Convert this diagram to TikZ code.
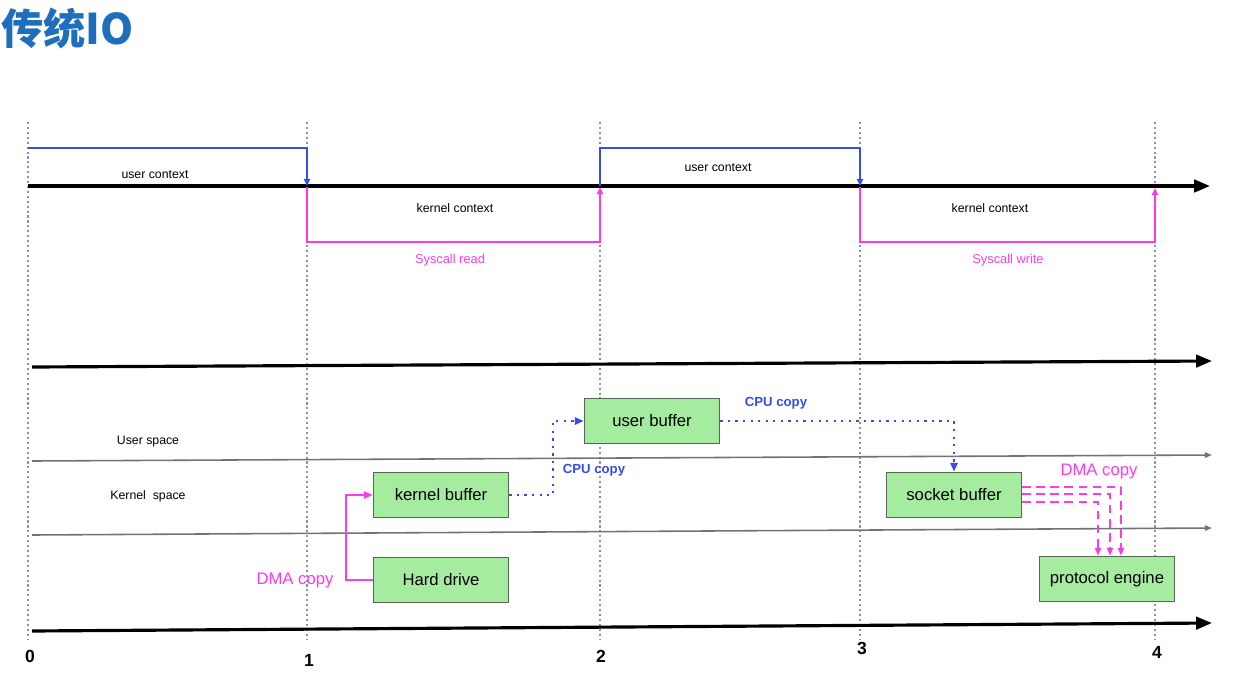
\documentclass[tikz,border=0pt]{standalone}
\usepackage{fontspec}
\setmainfont{Liberation Sans}
\newfontfamily\cjk{Noto Sans CJK SC}
\usetikzlibrary{arrows.meta,calc}
\definecolor{ctxblue}{RGB}{50,80,225}
\definecolor{dmamag}{RGB}{250,60,230}
\definecolor{boxgreen}{RGB}{165,236,160}
\definecolor{boxedge}{RGB}{85,105,85}
\definecolor{titleblue}{RGB}{30,110,190}
\definecolor{cpublue}{RGB}{55,75,230}
\begin{document}
\begin{tikzpicture}[x=0.02cm,y=-0.02cm,
  vguide/.style={gray!85, line width=0.8pt, dash pattern=on 1.2pt off 1.6pt},
  mainaxis/.style={line width=1.8pt, -{Triangle[length=9pt,width=7pt]}},
  sepline/.style={gray!90!black, line width=0.9pt, -{Triangle[length=4pt,width=3pt]}},
  bluectx/.style={ctxblue, line width=1.1pt, -{Triangle[length=4pt,width=3.5pt]}},
  magctx/.style={dmamag, line width=1.1pt, -{Triangle[length=4pt,width=3.5pt]}},
  buf/.style={draw=boxedge, fill=boxgreen, line width=0.9pt, minimum width=2.7cm, minimum height=0.9cm, inner sep=0pt, font=\fontsize{9.5}{11}\selectfont},
  small/.style={font=\fontsize{7}{8}\selectfont},
  mlabel/.style={font=\fontsize{7.3}{8}\selectfont, text=dmamag},
  cpulabel/.style={font=\bfseries\fontsize{7.5}{9}\selectfont, text=cpublue},
  dmalabel/.style={font=\fontsize{9.5}{11}\selectfont, text=dmamag},
  num/.style={font=\bfseries\fontsize{10}{12}\selectfont},
  cpucopy/.style={cpublue, line width=1.3pt, dash pattern=on 1.3pt off 3pt, -{Triangle[length=5pt,width=4pt]}},
  dmacopy/.style={dmamag, line width=1.1pt, -{Triangle[length=5pt,width=4pt]}},
  dmadash/.style={dmamag, line width=1pt, dash pattern=on 5pt off 3pt, -{Triangle[length=4.5pt,width=3.5pt]}}
]
\useasboundingbox (0,0) rectangle (1254,683);

% title
\node[anchor=west, inner sep=0pt, text=titleblue, font=\cjk\bfseries\fontsize{24}{28}\selectfont] (title) at (1,28) {传统IO};

% vertical guides
\foreach \x/\n in {28/g0,307/g1,600/g2,860/g3,1155/g4}{
  \coordinate (\n t) at (\x,122);
  \coordinate (\n b) at (\x,640);
  \draw[vguide] (\n t) -- (\n b);
}

% top timeline
\coordinate (ta0) at (28,186);
\coordinate (ta1) at (1210,186);
\draw[mainaxis] (ta0) -- (ta1);

\coordinate (u0) at (28,148);
\coordinate (u1) at (307,148);
\coordinate (u1b) at (307,186);
\draw[bluectx] (u0) -- (u1) -- (u1b);
\coordinate (k1a) at (307,187);
\coordinate (k1b) at (307,242);
\coordinate (k2b) at (600,242);
\coordinate (k2a) at (600,187);
\draw[magctx] (k1a) -- (k1b) -- (k2b) -- (k2a);
\coordinate (u2a) at (600,186);
\coordinate (u2b) at (600,148);
\coordinate (u3b) at (860,148);
\coordinate (u3a) at (860,186);
\draw[bluectx] (u2a) -- (u2b) -- (u3b) -- (u3a);
\coordinate (k3a) at (860,187);
\coordinate (k3b) at (860,242);
\coordinate (k4b) at (1155,242);
\coordinate (k4a) at (1155,188);
\draw[magctx] (k3a) -- (k3b) -- (k4b) -- (k4a);

\node[small] (uc1) at (155,175) {user context};
\node[small] (uc2) at (718,168) {user context};
\node[small] (kc1) at (455,208) {kernel context};
\node[small] (kc2) at (990,208) {kernel context};
\node[mlabel] (sr) at (450,260) {Syscall read};
\node[mlabel] (sw) at (1008,260) {Syscall write};

% lower axes
\coordinate (ma0) at (32,367);
\coordinate (ma1) at (1212,361);
\draw[mainaxis] (ma0) -- (ma1);
\coordinate (s1a) at (32,461);
\coordinate (s1b) at (1212,455);
\draw[sepline] (s1a) -- (s1b);
\coordinate (s2a) at (32,535);
\coordinate (s2b) at (1212,528);
\draw[sepline] (s2a) -- (s2b);
\coordinate (ba0) at (32,631);
\coordinate (ba1) at (1212,623);
\draw[mainaxis] (ba0) -- (ba1);

\node[small] (us) at (148,442) {User space};
\node[small] (ks) at (148,496) {Kernel\ \ space};

% buffers
\node[buf] (kb) at (441,495) {kernel buffer};
\node[buf] (hd) at (441,580) {Hard drive};
\node[buf] (ub) at (652,421) {user buffer};
\node[buf] (sb) at (954,495) {socket buffer};
\node[buf] (pe) at (1107,579) {protocol engine};

% DMA copy 1
\coordinate (d1) at (346,580);
\draw[dmacopy] (hd.west) -- (d1) |- (kb.west);
\node[dmalabel] (dl1) at (295,580) {DMA copy};

% CPU copy 1
\coordinate (c1) at (553,421);
\draw[cpucopy] (kb.east) -| (c1) -- (ub.west);
\node[cpulabel] (cl1) at (594,470) {CPU copy};

% CPU copy 2
\draw[cpucopy] (ub.east) -| (sb.north);
\node[cpulabel] (cl2) at (776,403) {CPU copy};

% DMA copy 2
\draw[dmadash] ($(sb.east)+(0,-8)$) -| ($(pe.north)+(14,0)$);
\draw[dmadash] ($(sb.east)+(0,-1)$) -| ($(pe.north)+(3,0)$);
\draw[dmadash] ($(sb.east)+(0,7)$) -| ($(pe.north)+(-9,0)$);
\node[dmalabel] (dl2) at (1099,471) {DMA copy};

% axis numbers
\node[num] (n0) at (30,656) {0};
\node[num] (n1) at (309,660) {1};
\node[num] (n2) at (601,656) {2};
\node[num] (n3) at (862,648) {3};
\node[num] (n4) at (1157,652) {4};
\end{tikzpicture}
\end{document}
